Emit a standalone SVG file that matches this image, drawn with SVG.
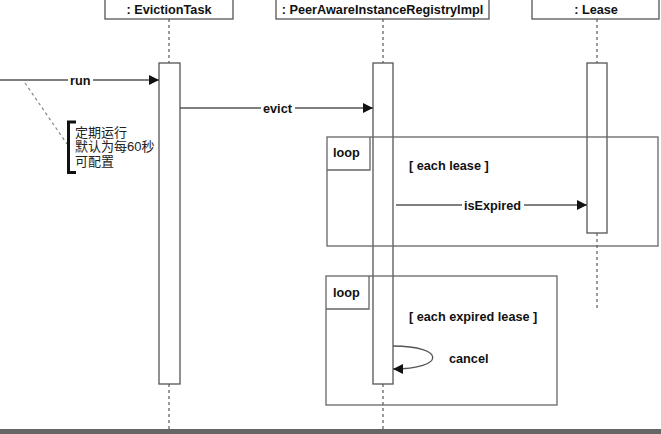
<svg xmlns="http://www.w3.org/2000/svg" width="661" height="434" viewBox="0 0 661 434">
<defs>
<style>
.hd{fill:#fff;stroke:#555;stroke-width:1.3}
.ht{font-family:"Liberation Sans",Arial,sans-serif;font-size:12.7px;font-weight:bold;fill:#111;text-anchor:middle}
.ll{stroke:#666;stroke-width:1.3;stroke-dasharray:3,3;fill:none}
.act{fill:#fff;stroke:#555;stroke-width:1.3}
.fr{fill:none;stroke:#666;stroke-width:1.3}
.msg{stroke:#555;stroke-width:1.3;fill:none}
.lb{font-family:"Liberation Sans",Arial,sans-serif;font-size:12.7px;font-weight:bold;fill:#111}
.bg{fill:#fff}
.note{font-family:"Liberation Sans","Noto Sans CJK SC",sans-serif;font-size:13px;fill:#222}
</style>
<marker id="ah" viewBox="0 0 10 10" refX="10" refY="5" markerWidth="10" markerHeight="10" markerUnits="userSpaceOnUse" orient="auto">
<path d="M0,0 L10,5 L0,10 Z" fill="#111"/>
</marker>
</defs>
<rect width="661" height="434" fill="#fff"/>

<g id="lifelines">
<line class="ll" x1="169" y1="19" x2="169" y2="63"/>
<line class="ll" x1="169" y1="384" x2="169" y2="429"/>
<line class="ll" x1="383" y1="19" x2="383" y2="63"/>
<line class="ll" x1="383" y1="384" x2="383" y2="429"/>
<line class="ll" x1="597" y1="19" x2="597" y2="63"/>
<line class="ll" x1="597" y1="233" x2="597" y2="308"/>
</g>

<g id="node-evictiontask">
<rect class="hd" x="105" y="-2" width="128" height="21"/>
<text class="ht" x="169" y="13.5">: EvictionTask</text>
<rect class="act" x="159" y="63" width="21" height="321"/>
</g>

<g id="node-registry">
<rect class="hd" x="276" y="-2" width="213" height="21"/>
<text class="ht" x="382.5" y="13.5">: PeerAwareInstanceRegistryImpl</text>
<rect class="act" x="373" y="63" width="20" height="321"/>
</g>

<g id="node-lease">
<rect class="hd" x="532" y="-2" width="127" height="21"/>
<text class="ht" x="596" y="13.5">: Lease</text>
<rect class="act" x="587" y="63" width="20" height="170"/>
</g>

<g id="loop1">
<rect class="fr" x="327" y="137" width="331" height="109"/>
<path class="fr" d="M327,170 H370 V137"/>
<text class="lb" x="333" y="157">loop</text>
<text class="lb" x="409" y="170">[ each lease ]</text>
</g>

<g id="loop2">
<rect class="fr" x="326" y="276" width="231" height="129"/>
<path class="fr" d="M326,309 H369 V276"/>
<text class="lb" x="333" y="297">loop</text>
<text class="lb" x="409" y="321">[ each expired lease ]</text>
</g>

<g id="note">
<line x1="25" y1="83" x2="67" y2="144" stroke="#888" stroke-width="1.2" stroke-dasharray="3,3"/>
<path d="M76,122 H68.5 V172.5 H76" fill="none" stroke="#111" stroke-width="3"/>
<text class="note" x="75" y="136.5">定期运行</text>
<text class="note" x="75" y="151">默认为每60秒</text>
<text class="note" x="75" y="166">可配置</text>
</g>

<g id="connectors">
<line class="msg" x1="0" y1="80" x2="159" y2="80" marker-end="url(#ah)"/>
<rect class="bg" x="68" y="72" width="25" height="16"/>
<text class="lb" x="70" y="84.5">run</text>

<line class="msg" x1="180" y1="108" x2="373" y2="108" marker-end="url(#ah)"/>
<rect class="bg" x="261" y="100" width="34" height="16"/>
<text class="lb" x="263" y="112.5">evict</text>

<line class="msg" x1="396" y1="205" x2="587" y2="205" marker-end="url(#ah)"/>
<rect class="bg" x="462" y="197" width="62" height="16"/>
<text class="lb" x="464" y="209.5">isExpired</text>

<path class="msg" d="M393,346 C446,346 446,369 393,369" marker-end="url(#ah)"/>
<text class="lb" x="449" y="362.5">cancel</text>
</g>

<rect x="0" y="429" width="661" height="5" fill="#666"/>
</svg>
